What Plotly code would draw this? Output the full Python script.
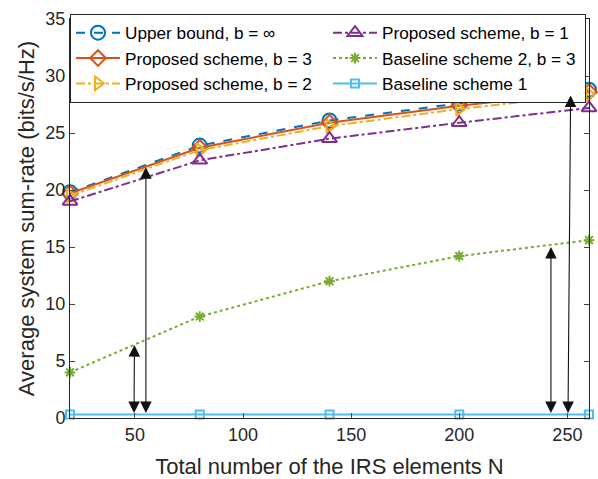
import plotly.graph_objects as go

N = [20, 80, 140, 200, 260]
upper = [19.8, 23.9, 26.1, 27.6, 28.8]
prop_b3 = [19.7, 23.7, 25.9, 27.4, 28.6]
prop_b2 = [19.5, 23.5, 25.6, 27.1, 28.4]
prop_b1 = [19.0, 22.6, 24.5, 25.9, 27.2]
base2_b3 = [4.0, 8.9, 12.0, 14.2, 15.6]
base1 = [0.3, 0.3, 0.3, 0.3, 0.3]

x_ticks = [50, 100, 150, 200, 250]
y_ticks = [0, 5, 10, 15, 20, 25, 30, 35]

# double-headed arrows: (x_bottom, y_bottom, x_top, y_top)
arrow_xb = [49.6, 55.1, 242.4, 250.3]
arrow_yb = [0.3, 0.3, 0.3, 0.3]
arrow_xt = [49.8, 55.1, 242.4, 251.5]
arrow_yt = [6.4, 22.0, 15.0, 28.3]

FONT = "Liberation Sans, Arial, sans-serif"
AX = "#262626"

series = [
    ("Upper bound, b = \u221e", upper, "#0072BD", "dash", "circle-open", 14, 1),
    ("Proposed scheme, b = 3", prop_b3, "#D95319", "solid", "diamond-open", 12, 3),
    ("Proposed scheme, b = 2", prop_b2, "#EDB120", "dashdot", "triangle-right-open", 12, 5),
    ("Proposed scheme, b = 1", prop_b1, "#7E2F8E", "dashdot", "triangle-up-open", 13, 2),
    ("Baseline scheme 2, b = 3", base2_b3, "#77AC30", "dot", "asterisk-open", 9, 4),
    ("Baseline scheme 1", base1, "#4DBEEE", "solid", "square-open", 8, 6),
]

fig = go.Figure()
for name, y, col, dash, sym, ms, rank in series:
    fig.add_trace(go.Scatter(
        x=N, y=y, name=name, mode="lines+markers", cliponaxis=False,
        line=dict(color=col, width=2, dash=dash),
        marker=dict(symbol=sym, size=ms, color=col, line=dict(color=col, width=2)),
        legendrank=rank,
    ))

for xb, yb, xt, yt in zip(arrow_xb, arrow_yb, arrow_xt, arrow_yt):
    fig.add_annotation(
        x=xt, y=yt, ax=xb, ay=yb, xref="x", yref="y", axref="x", ayref="y",
        showarrow=True, arrowhead=2, startarrowhead=2, arrowside="end+start",
        arrowsize=2.1, startarrowsize=2.1, arrowwidth=1.1, arrowcolor="#111111", text="",
    )

fig.update_layout(
    width=598, height=479,
    margin=dict(l=70, r=9, t=19, b=61),
    paper_bgcolor="white", plot_bgcolor="white",
    font=dict(family=FONT, color=AX, size=18),
    showlegend=True,
    legend=dict(
        orientation="h", x=0, y=1.0125, xanchor="left", yanchor="top",
        entrywidth=198, entrywidthmode="pixels", itemwidth=44,
        bgcolor="white", bordercolor=AX, borderwidth=1,
        font=dict(family=FONT, size=17.2, color="black"),
        tracegroupgap=0, itemsizing="trace",
    ),
    xaxis=dict(
        range=[20, 260], tickvals=x_ticks, ticks="inside", ticklen=5,
        showline=True, linecolor=AX, linewidth=1, mirror="allticks",
        showgrid=False, zeroline=False, tickfont=dict(size=18, color=AX),
        automargin=False,
        title=dict(text="Total number of the IRS elements N", font=dict(size=22, color=AX)),
    ),
    yaxis=dict(
        range=[0, 35], tickvals=y_ticks, ticks="inside", ticklen=5,
        showline=True, linecolor=AX, linewidth=1, mirror="allticks",
        showgrid=False, zeroline=False, tickfont=dict(size=18, color=AX),
        automargin=False,
        title=dict(text="Average system sum-rate (bits/s/Hz)", font=dict(size=22, color=AX), standoff=4),
    ),
)

fig.write_html("out.html", config={"displayModeBar": False},
               post_script="document.body.style.margin='0';document.body.style.overflow='hidden';")
